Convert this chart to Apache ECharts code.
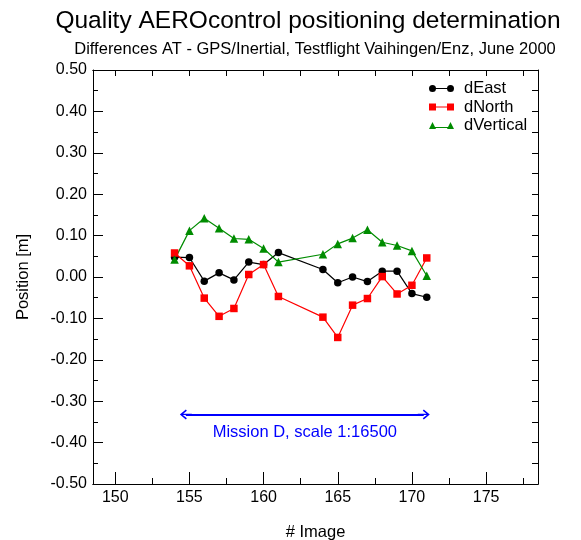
<!DOCTYPE html>
<html>
<head>
<meta charset="utf-8">
<script src="https://cdn.jsdelivr.net/npm/echarts@6/dist/echarts.min.js"></script>
<style>html,body{margin:0;padding:0;background:#fff}#c{width:581px;height:540px}</style>
</head>
<body>
<div id="c"></div>
<script>
// ---- data ----
var imageNo   = [154,155,156,157,158,159,160,161,164,165,166,167,168,169,170,171];
var dEast     = [0.048,0.047,-0.010,0.010,-0.007,0.036,0.030,0.059,0.018,-0.014,0.000,-0.011,0.014,0.014,-0.040,-0.049];
var dNorth    = [0.058,0.027,-0.051,-0.095,-0.076,0.006,0.030,-0.047,-0.097,-0.146,-0.068,-0.052,0.001,-0.041,-0.020,0.046];
var dVertical = [0.042,0.112,0.142,0.118,0.093,0.091,0.069,0.036,0.055,0.080,0.094,0.114,0.084,0.076,0.063,0.003];
var xMajorTicks = [150,155,160,165,170,175];
var xMinorTicks = [152.5,157.5,162.5,167.5,172.5,177.5];
var missionFrom = 154.76, missionTo = 170.8, missionY = -0.332;
var missionText = 'Mission D, scale 1:16500';

function pairs(xs, ys){ return xs.map(function(x,i){ return [x, ys[i]]; }); }

var FONT = 'Liberation Sans, Arial, Helvetica, sans-serif';
var chart = echarts.init(document.getElementById('c'), null, {renderer:'canvas'});

function xAx(pos, ticks, len, labels){
  return {
    type:'value', position:pos, min:148.5, max:178.5,
    axisLine:{show:true, onZero:false, lineStyle:{color:'#000', width:1}},
    axisTick:{show:true, inside:true, length:len, customValues:ticks, lineStyle:{color:'#000', width:1}},
    axisLabel:{show:labels, customValues:ticks, color:'#000', fontSize:16, fontFamily:FONT, margin:6},
    splitLine:{show:false},
    name: labels ? '# Image' : '', nameLocation:'middle', nameGap:40,
    nameTextStyle:{color:'#000', fontSize:16.5, fontFamily:FONT}
  };
}
function yAx(pos, labels, major, minor){
  return {
    type:'value', position:pos, min:-0.5, max:0.5, interval:0.1,
    axisLine:{show:true, onZero:false, lineStyle:{color:'#000', width:1}},
    axisTick:{show:true, inside:true, length:major, lineStyle:{color:'#000', width:1}},
    minorTick:{show:true, splitNumber:2, length:minor, lineStyle:{color:'#000', width:1}},
    axisLabel:{show:labels, color:'#000', fontSize:16, fontFamily:FONT, margin:6,
      formatter:function(v){ return v.toFixed(2); }},
    splitLine:{show:false},
    name: labels ? 'Position [m]' : '', nameLocation:'middle', nameGap:61,
    nameTextStyle:{color:'#000', fontSize:16.5, fontFamily:FONT}
  };
}

var legCircle = 'path://M0,3.5 A3.5,3.5 0 1 1 7,3.5 A3.5,3.5 0 1 1 0,3.5 Z M6,2.9 L19,2.9 L19,4.1 L6,4.1 Z M18,3.5 A3.5,3.5 0 1 1 25,3.5 A3.5,3.5 0 1 1 18,3.5 Z';
var legSquare = 'path://M0,0 L7,0 L7,7 L0,7 Z M6,2.9 L19,2.9 L19,4.1 L6,4.1 Z M18,0 L25,0 L25,7 L18,7 Z';
var legTri    = 'path://M3.5,0 L7,7 L0,7 Z M6,4.9 L19,4.9 L19,6.1 L6,6.1 Z M21.5,0 L25,7 L18,7 Z';
var chevron   = 'path://M5,0 L10,6 L8.8,7 L5,2.4 L1.2,7 L0,6 Z M4.4,1 L5.6,1 L5.6,12 L4.4,12 Z';

chart.setOption({
  animation:false,
  backgroundColor:'#fff',
  title:[
    {text:'Quality AEROcontrol positioning determination', left:303, top:4, textAlign:'center',
     textStyle:{color:'#000', fontSize:24.5, fontWeight:'normal', fontFamily:FONT}},
    {text:'Differences AT - GPS/Inertial, Testflight Vaihingen/Enz, June 2000', left:310, top:36, textAlign:'center',
     textStyle:{color:'#000', fontSize:16.5, fontWeight:'normal', fontFamily:FONT}}
  ],
  grid:{left:93, right:43, top:70, bottom:56, containLabel:false, outerBoundsMode:'none'},
  xAxis:[ xAx('bottom', xMajorTicks, 12, true), xAx('bottom', xMinorTicks, 6, false),
          xAx('top', xMajorTicks, 6, false), xAx('top', xMinorTicks, 6, false) ],
  yAxis:[ yAx('left', true, 10, 5), yAx('right', false, 6, 6) ],
  legend:{
    orient:'vertical', left:424, top:75, itemWidth:25, itemHeight:7, itemGap:1.5,
    textStyle:{color:'#000', fontSize:16.5, fontFamily:FONT, padding:[0,0,0,5]},
    data:[{name:'dEast', icon:legCircle},{name:'dNorth', icon:legSquare},{name:'dVertical', icon:legTri}]
  },
  series:[
    {name:'dEast', type:'line', data:pairs(imageNo,dEast), symbol:'circle', symbolSize:7.5,
     itemStyle:{color:'#000'}, lineStyle:{color:'#000', width:1.2}},
    {name:'dNorth', type:'line', data:pairs(imageNo,dNorth), symbol:'rect', symbolSize:7.5,
     itemStyle:{color:'#ff0000'}, lineStyle:{color:'#ff0000', width:1.2}},
    {name:'dVertical', type:'line', data:pairs(imageNo,dVertical), symbol:'triangle', symbolSize:8.5,
     itemStyle:{color:'#008c00'}, lineStyle:{color:'#008c00', width:1.2}},
    {name:'mission', type:'line', data:[], silent:true,
     markLine:{
       silent:true, symbol:[chevron, chevron], symbolSize:[10,12],
       lineStyle:{color:'#0000ff', width:2, type:'solid'},
       label:{show:true, position:'insideMiddleBottom', distance:10, formatter:missionText,
              color:'#0000ff', fontSize:16.5, fontFamily:FONT},
       data:[[{coord:[missionFrom, missionY]},{coord:[missionTo, missionY]}]]
     }}
  ]
});
</script>
</body>
</html>
